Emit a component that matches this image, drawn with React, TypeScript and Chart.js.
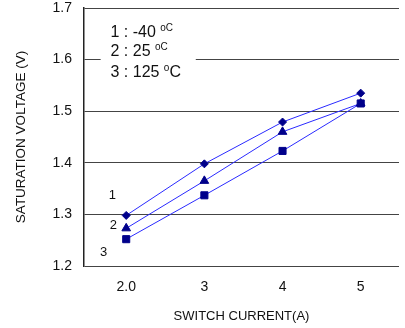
import React, { useEffect, useRef } from "react";
import { Chart, registerables } from "chart.js";

Chart.register(...registerables);

// ---- data ----
const currents = [2, 3, 4, 5];
const xTickValues = [2, 3, 4, 5];
const xTickLabels = ["2.0", "3", "4", "5"];
const yTickValues = [1.2, 1.3, 1.4, 1.5, 1.6, 1.7];
const vMinus40 = [1.298, 1.398, 1.479, 1.535];
const v25 = [1.273, 1.365, 1.46, 1.515];
const v125 = [1.252, 1.337, 1.423, 1.515];

// curve number labels (data coordinates)
const curveLabels = ["1", "2", "3"];
const curveLabelX = [1.824, 1.836, 1.711];
const curveLabelY = [1.3376, 1.2795, 1.227];

// temperature legend text (data coordinates)
const legendMain = ["1 : -40 ", "2 : 25 ", "3 : 125 "];
const legendSup = ["oC", "oC", "o"];
const legendTail = ["", "", "C"];
const legendX = 1.799;
const legendBaseY = [1.644, 1.607, 1.567];
const legendBoxX = [1.673, 2.89];
const legendBoxY = [1.66, 1.555];

const FONT = "'Liberation Sans', Arial, Helvetica, sans-serif";
const LINE = "#2a2aff";
const MARK = "#00008b";

const annotationPlugin = {
  id: "annots",
  beforeDatasetsDraw(chart: any) {
    const { ctx, scales } = chart;
    const xs = scales.x;
    const ys = scales.y;
    ctx.save();
    // white box behind legend text (interrupts grid line)
    const bx0 = xs.getPixelForValue(legendBoxX[0]);
    const bx1 = xs.getPixelForValue(legendBoxX[1]);
    const by0 = ys.getPixelForValue(legendBoxY[0]);
    const by1 = ys.getPixelForValue(legendBoxY[1]);
    ctx.fillStyle = "#ffffff";
    ctx.fillRect(bx0, by0, bx1 - bx0, by1 - by0);

    ctx.fillStyle = "#111";
    ctx.textBaseline = "alphabetic";
    ctx.textAlign = "left";
    for (let i = 0; i < legendMain.length; i++) {
      let x = xs.getPixelForValue(legendX);
      const y = ys.getPixelForValue(legendBaseY[i]);
      ctx.font = `16px ${FONT}`;
      ctx.fillText(legendMain[i], x, y);
      x += ctx.measureText(legendMain[i]).width;
      ctx.font = `10px ${FONT}`;
      ctx.fillText(legendSup[i], x, y - 6);
      x += ctx.measureText(legendSup[i]).width;
      if (legendTail[i]) {
        ctx.font = `16px ${FONT}`;
        ctx.fillText(legendTail[i], x, y);
      }
    }

    ctx.font = `13px ${FONT}`;
    ctx.textAlign = "center";
    ctx.textBaseline = "middle";
    for (let i = 0; i < curveLabels.length; i++) {
      ctx.fillText(
        curveLabels[i],
        xs.getPixelForValue(curveLabelX[i]),
        ys.getPixelForValue(curveLabelY[i])
      );
    }
    ctx.restore();
  },
};

export default function App() {
  const ref = useRef<HTMLCanvasElement | null>(null);

  useEffect(() => {
    if (!ref.current) return;
    const mk = (vals: number[], style: string, r: number) => ({
      data: currents.map((c, i) => ({ x: c, y: vals[i] })),
      borderColor: LINE,
      borderWidth: 1,
      backgroundColor: MARK,
      pointBackgroundColor: MARK,
      pointBorderColor: MARK,
      pointBorderWidth: 1,
      pointStyle: style,
      pointRadius: r,
      tension: 0,
      fill: false,
    });
    const chart = new Chart(ref.current, {
      type: "line",
      data: {
        datasets: [
          mk(vMinus40, "rectRot", 4),
          mk(v25, "triangle", 5),
          mk(v125, "rect", 5),
        ] as any,
      },
      options: {
        animation: false,
        responsive: false,
        devicePixelRatio: 1,
        layout: { padding: { top: 8, right: 0, bottom: 0, left: 0 } },
        plugins: {
          legend: { display: false },
          tooltip: { enabled: false },
        },
        scales: {
          x: {
            type: "linear",
            min: 1.46,
            max: 5.49,
            grid: { display: false, drawTicks: false },
            border: { display: false },
            afterBuildTicks: (s: any) => {
              s.ticks = xTickValues.map((v) => ({ value: v }));
            },
            afterFit: (s: any) => {
              s.height = 62;
              s.paddingLeft = 0;
              s.paddingRight = 0;
            },
            ticks: {
              font: { family: FONT, size: 14 },
              color: "#111",
              padding: 13,
              maxRotation: 0,
              callback: (v: any) => {
                const i = xTickValues.indexOf(Number(v));
                return i >= 0 ? xTickLabels[i] : "";
              },
            },
            title: {
              display: true,
              text: "SWITCH CURRENT(A)",
              font: { family: FONT, size: 13 },
              color: "#111",
              padding: { top: 0, bottom: 4 },
            },
          },
          y: {
            type: "linear",
            min: 1.2,
            max: 1.7,
            afterBuildTicks: (s: any) => {
              s.ticks = yTickValues.map((v) => ({ value: v }));
            },
            afterFit: (s: any) => {
              s.width = 84;
              s.paddingTop = 0;
              s.paddingBottom = 0;
            },
            grid: { color: "#444", lineWidth: 1, drawTicks: false },
            border: { display: true, color: "#222", width: 1.5 },
            ticks: {
              font: { family: FONT, size: 14 },
              color: "#111",
              padding: 12,
              callback: (v: any) => Number(v).toFixed(1),
            },
            title: {
              display: true,
              text: "SATURATION VOLTAGE (V)",
              font: { family: FONT, size: 13.5 },
              color: "#111",
              padding: { top: 13, bottom: 0 },
            },
          },
        },
      } as any,
      plugins: [annotationPlugin],
    });
    return () => chart.destroy();
  }, []);

  return (
    <div style={{ position: "absolute", left: 0, top: 0, width: 405, height: 328, background: "#fff" }}>
      <canvas ref={ref} width={405} height={328} style={{ width: 405, height: 328, display: "block" }} />
    </div>
  );
}
